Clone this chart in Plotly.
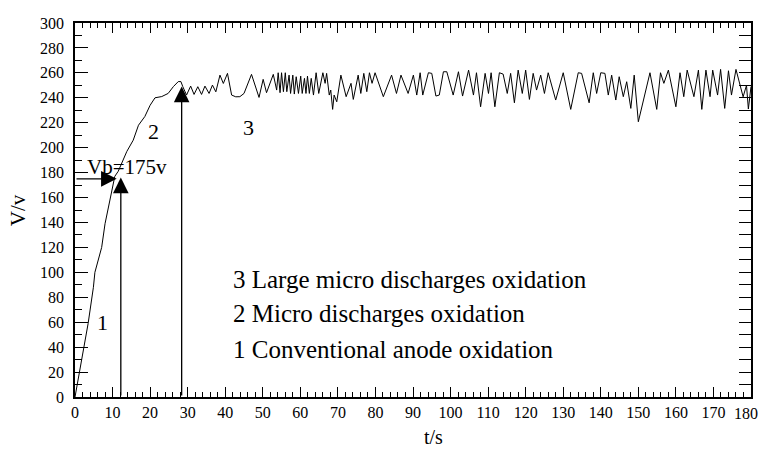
import plotly.graph_objects as go

# ---- data ----
t_s = [0, 1.3, 3.5, 4.9, 5.3, 7.1, 8.0, 9.3, 10.6, 11.5, 13.3, 13.8, 15.5, 16.9, 18.6, 20.0,
       21.3, 23.1, 24.8, 26.2, 27.5, 28.2, 28.7,
       29.7, 30.8, 31.7, 32.7, 33.7, 34.6, 35.7, 36.6, 37.5, 38.6, 39.5, 40.6, 41.7, 42.8,
       43.9, 45.0, 47.0, 49.0, 50.1, 51.0, 52.8, 53.7, 54.1, 54.6, 55.0, 55.5, 56.0, 56.4,
       57.0, 57.4, 58.0, 58.4, 58.9, 59.5, 60.1, 60.5, 61.1, 61.5, 61.9, 62.4, 62.9, 63.5,
       64.2, 64.9, 66.0, 66.6, 67.0, 67.7, 68.1, 68.6, 69.0, 69.7, 70.8, 72.2, 73.5, 74.1,
       75.4, 76.1, 76.9, 77.7, 78.4, 79.1, 79.9, 82.1, 84.3, 85.6, 86.8, 88.7, 90.1, 91.0,
       91.9, 92.6, 94.1, 95.0, 96.1, 97.0, 98.1, 99.0, 100.7, 102.1, 103.2, 104.8, 106.1,
       106.9, 108.0, 109.2, 110.1,
       110.8, 111.8, 113.0, 114.0, 115.1, 116.0, 117.0, 118.0, 119.1, 120.0, 121.0, 122.0,
       122.9, 124.0, 125.0, 126.0, 128.0, 130.0, 132.0, 134.0, 134.9, 136.9, 138.0, 138.9,
       140.0, 141.1, 142.0, 142.9, 144.0, 144.9, 146.0, 146.9, 148.0, 148.9, 150.0, 153.1,
       154.9, 155.9, 156.8, 158.0, 160.0, 161.1, 162.1, 163.0, 164.8, 166.0, 166.9, 168.0,
       169.1, 169.8, 171.1, 171.9, 173.0, 174.0, 174.8, 176.0, 177.9, 178.8, 179.3, 180.0]
v_v = [0, 23, 59, 88, 100, 120, 139, 158, 177, 181, 193, 197, 206, 218, 225, 234,
       240, 241, 243.5, 249, 253, 253, 249,
       242.2, 249.4, 242.7, 248.9, 242.7, 249.4, 243.5, 250.2, 244.8, 258.2, 251.5, 259.6, 242.2, 240.8,
       240.9, 243.5, 258.8, 240.3, 254.8, 244.1, 258.8, 246.2, 260.1, 244.1, 260.1, 244.9, 260.1, 244.9,
       258.2, 243.5, 258.2, 243.0, 256.9, 243.5, 257.4, 243.5, 255.6, 243.5, 257.4, 243.5, 255.6, 242.2,
       260.1, 243.5, 260.1, 251.6, 259.6, 242.2, 246.2, 230.7, 242.2, 236.8, 258.2, 240.9, 251.6, 238.7,
       258.2, 243.5, 259.6, 244.9, 260.1, 251.6, 260.1, 240.9, 258.2, 243.5, 258.2, 243.5, 258.2, 242.2,
       260.1, 242.2, 260.1, 259.6, 241.4, 242.2, 260.9, 260.9, 242.2, 260.9, 241.4, 262.2, 242.2,
       260.1, 232.8, 259.6, 243.5,
       260.1, 232.8, 260.1, 259.0, 243.5, 259.6, 236.0, 262.2, 243.5, 262.2, 238.7, 259.6,
       246.2, 258.2, 243.5, 260.1, 238.2, 260.1, 230.7, 260.1, 259.6, 236.0, 260.1, 243.5,
       260.1, 259.6, 242.2, 258.2, 238.2, 256.9, 240.9, 252.9, 231.5, 258.2, 220.8, 260.1,
       230.7, 260.1, 251.6, 262.2, 232.8, 260.1, 240.9, 262.2, 240.9, 262.2, 230.7, 262.2,
       240.9, 262.2, 242.2, 262.8, 231.5, 261.7, 242.2, 262.8, 240.8, 250.0, 231.0, 249.0]

x_ticks = list(range(0, 181, 10))
x_tick_text = [str(v) for v in x_ticks[:-1]] + [""]   # last label drawn separately (edge)
LAST_X_LABEL = str(x_ticks[-1])
y_ticks = list(range(0, 301, 20))

VB = 175              # breakdown voltage
VB_T = 12.2           # time of breakdown arrow
VB_ARROW_END = 11.1   # horizontal arrow tip
STAGE3_T = 28.4       # start of stage 3 arrow
STAGE3_V = 249

legend_lines = ["3 Large micro discharges oxidation",
                "2 Micro discharges oxidation",
                "1 Conventional anode oxidation"]
legend_v = [94.6, 66.6, 38.5]

FONT = "Liberation Serif, Times New Roman, serif"

fig = go.Figure()
fig.add_trace(go.Scatter(x=t_s, y=v_v, mode="lines",
                         line=dict(color="black", width=1), showlegend=False,
                         hoverinfo="skip"))
# helper trace so that the right-hand tick axis is drawn
fig.add_trace(go.Scatter(x=[0], y=[0], yaxis="y2", mode="lines",
                         line=dict(width=0), showlegend=False, hoverinfo="skip"))

ann = []
arrow_common = dict(xref="x", yref="y", axref="x", ayref="y", text="", showarrow=True,
                    arrowhead=2, arrowsize=2.4, arrowwidth=1.3, arrowcolor="black",
                    standoff=0, startstandoff=0)
ann.append(dict(x=VB_T, y=VB + 1, ax=VB_T, ay=0, **arrow_common))
ann.append(dict(x=STAGE3_T, y=STAGE3_V, ax=STAGE3_T, ay=0, **arrow_common))
ann.append(dict(x=VB_ARROW_END, y=VB, ax=0, ay=VB, **arrow_common))

txt_font = dict(family=FONT, size=22, color="black")
leg_font = dict(family=FONT, size=25, color="black")
ann.append(dict(x=2.66, y=184.4, xref="x", yref="y", text="Vb=175v", showarrow=False,
                xanchor="left", yanchor="middle", font=dict(family=FONT, size=21, color="black")))
ann.append(dict(x=20.8, y=213.3, xref="x", yref="y", text="2", showarrow=False,
                xanchor="center", yanchor="middle", font=txt_font))
ann.append(dict(x=46.3, y=216.5, xref="x", yref="y", text="3", showarrow=False,
                xanchor="center", yanchor="middle", font=txt_font))
ann.append(dict(x=7.2, y=60.1, xref="x", yref="y", text="1", showarrow=False,
                xanchor="center", yanchor="middle", font=txt_font))
for s, v in zip(legend_lines, legend_v):
    ann.append(dict(x=41.5, y=v, xref="x", yref="y", text=s, showarrow=False,
                    xanchor="left", yanchor="middle", font=leg_font))

# last x tick label, kept inside the page
ann.append(dict(x=x_ticks[-1], y=-0.043, xref="x", yref="paper", text=LAST_X_LABEL,
                showarrow=False, xanchor="right", xshift=9, yanchor="middle",
                font=dict(family=FONT, size=16, color="black")))

ann.append(dict(x=0.53, y=-0.107, xref="paper", yref="paper", text="t/s", showarrow=False,
                xanchor="center", yanchor="middle", font=dict(family=FONT, size=20, color="black")))
ann.append(dict(x=-0.084, y=0.5, xref="paper", yref="paper", text="V/v", showarrow=False,
                textangle=-90, xanchor="center", yanchor="middle",
                font=dict(family=FONT, size=21, color="black")))

fig.update_layout(
    width=761, height=449,
    margin=dict(l=75, r=10, t=23, b=52, autoexpand=False),
    paper_bgcolor="white", plot_bgcolor="white",
    font=dict(family=FONT, size=16, color="black"),
    annotations=ann,
    showlegend=False,
    xaxis=dict(range=[0, 180], tickvals=x_ticks, ticktext=x_tick_text, ticks="inside",
               ticklen=10, tickwidth=1.2,
               tickcolor="black", showline=True, linewidth=1.5, linecolor="black",
               mirror="ticks", showgrid=False, zeroline=False, automargin=False,
               ticklabeloverflow="allow",
               tickfont=dict(family=FONT, size=16),
               minor=dict(dtick=2, ticks="inside", ticklen=5, tickwidth=1, tickcolor="black",
                          showgrid=False)),
    yaxis=dict(range=[0, 300], tickvals=y_ticks, ticks="inside", ticklen=13, tickwidth=1.2,
               tickcolor="black", showline=True, linewidth=1.5, linecolor="black",
               mirror=True, showgrid=False, zeroline=False, automargin=False,
               ticklabelstandoff=6,
               tickfont=dict(family=FONT, size=16),
               minor=dict(dtick=10, ticks="inside", ticklen=7, tickwidth=1, tickcolor="black",
                          showgrid=False)),
    yaxis2=dict(range=[0, 300], overlaying="y", side="right", anchor="x", dtick=10,
                ticks="inside", ticklen=12, tickwidth=1.2, tickcolor="black", automargin=False,
                showticklabels=False, showline=False, showgrid=False, zeroline=False),
)

fig.write_html("out.html", config={"displayModeBar": False},
               post_script="document.body.style.margin='0';document.body.style.padding='0';")
